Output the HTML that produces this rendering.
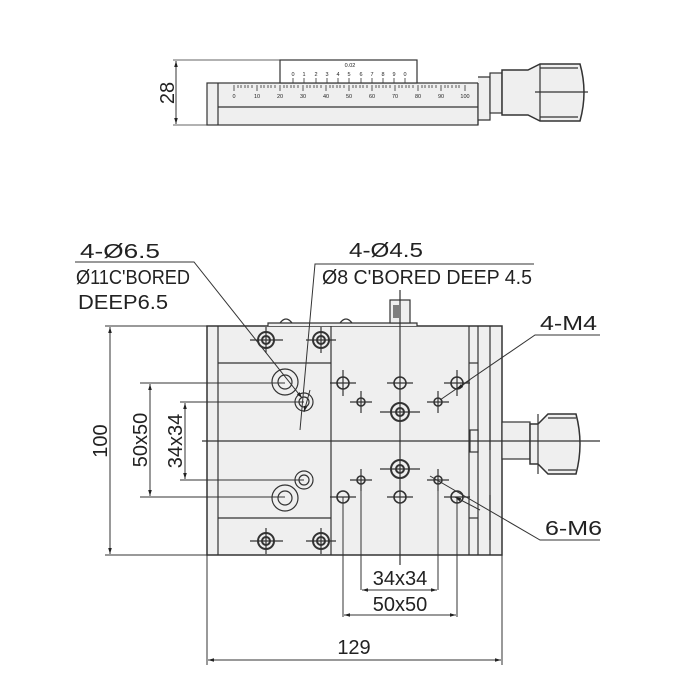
<!DOCTYPE html>
<html><head><meta charset="utf-8"><style>
html,body{margin:0;padding:0;background:#fff;}
svg{display:block;}
text{font-family:"Liberation Sans",sans-serif;fill:#222;}
</style></head><body>
<svg width="700" height="700" viewBox="0 0 700 700" xmlns="http://www.w3.org/2000/svg">
<defs>
<marker id="ar" viewBox="0 0 10 10" refX="10" refY="5" markerWidth="8" markerHeight="6" orient="auto-start-reverse"><path d="M0,2 L10,5 L0,8 z" fill="#222"/></marker>
</defs>
<g stroke="#333" stroke-width="1.2" fill="none">
<!-- TOP VIEW -->
<rect x="207" y="83" width="271" height="42" fill="#efefef"/>
<line x1="218" y1="83" x2="218" y2="125"/>
<line x1="218" y1="107" x2="478" y2="107"/>
<rect x="280" y="60" width="137" height="23" fill="#fff"/>
<path d="M478,77 h12 v43 h-12" fill="#efefef"/>
<rect x="490" y="73" width="12" height="40" fill="#efefef"/>
<path d="M502,70 h26 l12,-6 h40 q8,28 0,57 h-40 l-12,-6 h-26 z" fill="#efefef" stroke-width="1.5"/>
<line x1="540" y1="64" x2="540" y2="121"/>
<line x1="535" y1="92" x2="588" y2="92"/>
<line x1="540" y1="68" x2="578" y2="68"/><line x1="540" y1="117" x2="578" y2="117"/>
<line x1="478" y1="83" x2="478" y2="125"/>
<!-- dim 28 -->
<line x1="173" y1="60" x2="280" y2="60" stroke-width="0.8"/>
<line x1="173" y1="125" x2="207" y2="125" stroke-width="0.8"/>
<line x1="176" y1="61" x2="176" y2="124" marker-start="url(#ar)" marker-end="url(#ar)" stroke-width="1"/>
<!-- MAIN VIEW -->
<rect x="207" y="326" width="295" height="229" fill="#efefef" stroke-width="1.5"/>
<path d="M268,326 v-3 h149 v3" fill="#efefef"/>
<rect x="390" y="300" width="20" height="23" fill="#efefef"/>
<line x1="394" y1="305" x2="394" y2="318"/><line x1="396" y1="305" x2="396" y2="318"/><line x1="398" y1="305" x2="398" y2="318"/>
<line x1="218" y1="326" x2="218" y2="555"/>
<line x1="331" y1="326" x2="331" y2="555"/>
<line x1="469" y1="326" x2="469" y2="555"/>
<line x1="478" y1="326" x2="478" y2="555"/>
<line x1="490" y1="326" x2="490" y2="555"/>
<line x1="218" y1="363" x2="331" y2="363"/>
<line x1="218" y1="518" x2="331" y2="518"/>
<line x1="469" y1="363" x2="478" y2="363"/><line x1="469" y1="518" x2="478" y2="518"/>
<line x1="490" y1="410" x2="490" y2="450"/>
<line x1="490" y1="495" x2="490" y2="540"/>
<rect x="470" y="430" width="8" height="22" fill="#efefef"/>
<rect x="502" y="422" width="28" height="37" fill="#efefef"/>
<path d="M530,424 h8 l10,-10 h28 q8,30 0,60 h-28 l-10,-10 h-8 z" fill="#efefef" stroke-width="1.5"/>
<line x1="538" y1="414" x2="538" y2="474"/>
<line x1="548" y1="418" x2="576" y2="418"/><line x1="548" y1="470" x2="576" y2="470"/>
<path d="M280,323 q6,-8 12,0" /><path d="M340,323 q6,-8 12,0"/>
<!-- centerlines -->
<line x1="202" y1="441" x2="600" y2="441"/>
<line x1="400" y1="290" x2="400" y2="565"/>
<!-- counterbored bolts -->
<g stroke-width="2">
<circle cx="266" cy="340" r="8"/><circle cx="266" cy="340" r="4"/>
<circle cx="321" cy="340" r="8"/><circle cx="321" cy="340" r="4"/>
<circle cx="266" cy="541" r="8"/><circle cx="266" cy="541" r="4"/>
<circle cx="321" cy="541" r="8"/><circle cx="321" cy="541" r="4"/>
<circle cx="400" cy="412" r="9"/><circle cx="400" cy="412" r="4"/>
<circle cx="400" cy="469" r="9"/><circle cx="400" cy="469" r="4"/>
</g>
<circle cx="285" cy="382" r="13"/><circle cx="285" cy="382" r="7"/>
<circle cx="304" cy="402" r="9"/><circle cx="304" cy="402" r="5"/>
<circle cx="304" cy="480" r="9"/><circle cx="304" cy="480" r="5"/>
<circle cx="285" cy="498" r="13"/><circle cx="285" cy="498" r="7"/>
<g stroke-width="1.6">
<circle cx="343" cy="383" r="6"/><circle cx="400" cy="383" r="6"/><circle cx="457" cy="383" r="6"/>
<circle cx="343" cy="497" r="6"/><circle cx="400" cy="497" r="6"/><circle cx="457" cy="497" r="6"/>
<circle cx="361" cy="402" r="4"/><circle cx="438" cy="402" r="4"/>
<circle cx="361" cy="480" r="4"/><circle cx="438" cy="480" r="4"/>
</g>
<path d="M250,340h33M266,327v26M306,340h30M321,327v26M250,541h33M266,528v26M306,541h30M321,528v26"/>
<path d="M330,383h26M343,370v26M387,383h26M444,383h26M457,370v26M330,497h26M387,497h26M444,497h26M350,402h22M361,391v22M427,402h22M438,391v22M350,480h22M361,469v22M427,480h22M438,469v22M380,412h40M380,469h40"/>
<path d="M140,383h145M140,497h145M180,402h124M180,480h124M105,326h102M105,555h102" stroke-width="1"/>
<path d="M343,497v120M361,480v110M438,480v110M457,497v120M207,555v110M502,555v110" stroke-width="1"/>
<g stroke-width="1">
<line x1="110" y1="327" x2="110" y2="554" marker-start="url(#ar)" marker-end="url(#ar)"/>
<line x1="150" y1="384" x2="150" y2="496" marker-start="url(#ar)" marker-end="url(#ar)"/>
<line x1="185" y1="403" x2="185" y2="479" marker-start="url(#ar)" marker-end="url(#ar)"/>
<line x1="362" y1="590" x2="437" y2="590" marker-start="url(#ar)" marker-end="url(#ar)"/>
<line x1="344" y1="615" x2="456" y2="615" marker-start="url(#ar)" marker-end="url(#ar)"/>
<line x1="208" y1="660" x2="501" y2="660" marker-start="url(#ar)" marker-end="url(#ar)"/>
<path d="M75,262 H194 L302,398" marker-end="url(#ar)"/>
<path d="M534,264 H315 L300,430"/>
<line x1="310" y1="390" x2="304" y2="412" marker-end="url(#ar)"/>
<path d="M600,335 H535 L440,400"/>
<line x1="470" y1="380" x2="457" y2="389" marker-end="url(#ar)"/>
<path d="M600,540 H540 L430,476"/>
<line x1="455" y1="497" x2="480" y2="510" marker-start="url(#ar)"/>
</g>
</g>
<!-- ruler -->
<g stroke="#333" stroke-width="0.8">
<path d="M234,91v-6M257,91v-6M280,91v-6M303,91v-6M326,91v-6M349,91v-6M372,91v-6M395,91v-6M418,91v-6M441,91v-6M465,91v-6"/>
<path d="M238,88v-3M241,88v-3M245,88v-3M248,88v-3M252,88v-3M261,88v-3M264,88v-3M268,88v-3M271,88v-3M275,88v-3M284,88v-3M287,88v-3M291,88v-3M294,88v-3M298,88v-3M307,88v-3M310,88v-3M314,88v-3M317,88v-3M321,88v-3M330,88v-3M333,88v-3M337,88v-3M340,88v-3M344,88v-3M353,88v-3M356,88v-3M360,88v-3M363,88v-3M367,88v-3M376,88v-3M379,88v-3M383,88v-3M386,88v-3M390,88v-3M399,88v-3M402,88v-3M406,88v-3M409,88v-3M413,88v-3M422,88v-3M425,88v-3M429,88v-3M432,88v-3M436,88v-3M445,88v-3M448,88v-3M452,88v-3M456,88v-3M459,88v-3"/>
<path d="M293,78v5M304,78v5M316,78v5M327,78v5M338,78v5M349,78v5M361,78v5M372,78v5M383,78v5M394,78v5M405,78v5"/>
</g>
<g font-size="5.5" text-anchor="middle">
<text x="234" y="98">0</text><text x="257" y="98">10</text><text x="280" y="98">20</text><text x="303" y="98">30</text><text x="326" y="98">40</text><text x="349" y="98">50</text><text x="372" y="98">60</text><text x="395" y="98">70</text><text x="418" y="98">80</text><text x="441" y="98">90</text><text x="465" y="98">100</text>
<text x="293" y="76">0</text><text x="304" y="76">1</text><text x="316" y="76">2</text><text x="327" y="76">3</text><text x="338" y="76">4</text><text x="349" y="76">5</text><text x="361" y="76">6</text><text x="372" y="76">7</text><text x="383" y="76">8</text><text x="394" y="76">9</text><text x="405" y="76">0</text>
<text x="350" y="67">0.02</text>
</g>
<g font-size="20">
<text x="167" y="93" transform="rotate(-90 167 93)" text-anchor="middle" dy="7">28</text>
<text x="100" y="441" transform="rotate(-90 100 441)" text-anchor="middle" dy="7">100</text>
<text x="140" y="440" transform="rotate(-90 140 440)" text-anchor="middle" dy="7">50x50</text>
<text x="175" y="441" transform="rotate(-90 175 441)" text-anchor="middle" dy="7">34x34</text>
<text x="400" y="585" text-anchor="middle">34x34</text>
<text x="400" y="611" text-anchor="middle">50x50</text>
<text x="354" y="654" text-anchor="middle">129</text>
<text x="80" y="258" textLength="80" lengthAdjust="spacingAndGlyphs">4-Ø6.5</text>
<text x="76" y="284" textLength="114" lengthAdjust="spacingAndGlyphs">Ø11C'BORED</text>
<text x="78" y="309" textLength="90" lengthAdjust="spacingAndGlyphs">DEEP6.5</text>
<text x="349" y="257" textLength="74" lengthAdjust="spacingAndGlyphs">4-Ø4.5</text>
<text x="322" y="284" textLength="210" lengthAdjust="spacingAndGlyphs">Ø8 C'BORED  DEEP 4.5</text>
<text x="540" y="330" textLength="57" lengthAdjust="spacingAndGlyphs">4-M4</text>
<text x="545" y="535" textLength="57" lengthAdjust="spacingAndGlyphs">6-M6</text>
</g>
</svg>
</body></html>
